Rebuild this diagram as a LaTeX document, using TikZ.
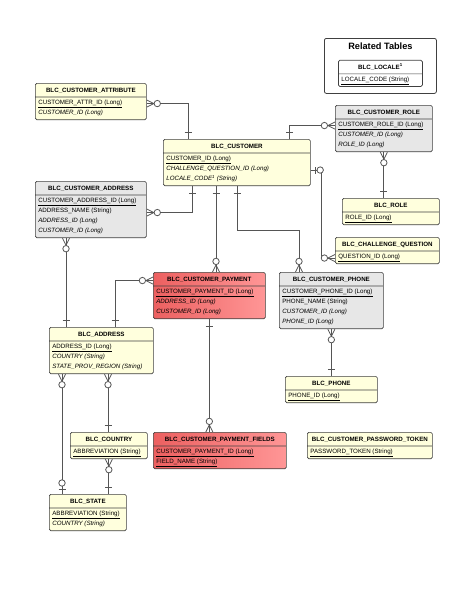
\documentclass[tikz,border=0pt]{standalone}
\usepackage{fontspec}
\setmainfont{Liberation Sans}
\usepackage{xcolor}
\definecolor{tabyellow}{RGB}{255,255,221}
\definecolor{tabgrey}{RGB}{231,231,231}
\definecolor{tabred}{RGB}{236,96,96}
\definecolor{tabpink}{RGB}{255,150,150}
\definecolor{boxline}{RGB}{64,64,64}
\definecolor{relline}{RGB}{85,85,85}
\usepackage{tikz}
\usetikzlibrary{positioning}
\usetikzlibrary{shapes,calc}
\usetikzlibrary{decorations.markings}

\newcommand{\tabhead}[1]{\rule[-3.5pt]{0pt}{11pt}\textbf{#1}}
\newcommand{\tabkey}[1]{\rule[-3.6pt]{0pt}{10pt}\underline{#1}}
\newcommand{\tabref}[1]{\rule[-3.6pt]{0pt}{10pt}\textit{#1}}
\newcommand{\tabcol}[1]{\rule[-3.6pt]{0pt}{10pt}#1}

\tikzset{table node/.style={rectangle split, rectangle split parts=2, rectangle split part align={center,left}, align=left, draw=boxline, line width=0.7pt, rounded corners=1.5pt, anchor=north west, inner xsep=3pt, inner ysep=1pt, font=\fontsize{6.2}{10}\selectfont, fill=tabyellow},
  rel line/.style={draw=relline, line width=0.8pt},
  many start/.style={postaction={decorate, decoration={markings, mark=at position 0.1pt with {\draw[rel line] (7pt,0)--(0,3.5pt) (7pt,0)--(0,-3.5pt); \draw[rel line, fill=white] (10.5pt,0) circle (3.2pt);}}}},
  many end/.style={postaction={decorate, decoration={markings, mark=at position -0.1pt with {\draw[rel line] (-7pt,0)--(0,3.5pt) (-7pt,0)--(0,-3.5pt); \draw[rel line, fill=white] (-10.5pt,0) circle (3.2pt);}}}},
  one start/.style={postaction={decorate, decoration={markings, mark=at position 7pt with {\draw[rel line] (0,-3.5pt)--(0,3.5pt);}}}},
  one end/.style={postaction={decorate, decoration={markings, mark=at position -7pt with {\draw[rel line] (0,-3.5pt)--(0,3.5pt);}}}},
  opt start/.style={postaction={decorate, decoration={markings, mark=at position 5pt with {\draw[rel line] (0,-3.5pt)--(0,3.5pt);}, mark=at position 9.5pt with {\draw[rel line, fill=white] (0,0) circle (3.2pt);}}}},
  opt end/.style={postaction={decorate, decoration={markings, mark=at position -11pt with {\draw[rel line, fill=white] (0,0) circle (3.2pt);}, mark=at position -4.5pt with {\draw[rel line] (0,-3.5pt)--(0,3.5pt);}}}},
}

\begin{document}
\begin{tikzpicture}[x=1pt, y=-1pt]
    \path[use as bounding box, fill=white] (0,0) rectangle (474,613);

    % related tables
    \node[draw=boxline, line width=0.8pt, rounded corners=2pt, minimum width=112pt, minimum height=55pt, anchor=north west] (related) at (324,38) {};
    \node[font=\bfseries\fontsize{9.2}{11}\selectfont, below=1pt of related.north] (reltitle) {Related Tables};
    \node[table node, fill=white, minimum width=84pt, below=7pt of reltitle] (locale) {\tabhead{BLC\_LOCALE\textsuperscript{1}}\nodepart{two}\tabkey{LOCALE\_CODE (String)}};

    % tables
    \node[table node, minimum width=111pt] (custattr) at (35,83) {\tabhead{BLC\_CUSTOMER\_ATTRIBUTE}\nodepart{two}\tabkey{CUSTOMER\_ATTR\_ID (Long)}\\ \tabref{CUSTOMER\_ID (Long)}};
    \node[table node, minimum width=147pt] (cust) at (163,139) {\tabhead{BLC\_CUSTOMER}\nodepart{two}\tabkey{CUSTOMER\_ID (Long)}\\ \tabref{CHALLENGE\_QUESTION\_ID (Long)}\\ \tabref{LOCALE\_CODE\textsuperscript{1} (String)}};
    \node[table node, fill=tabgrey, minimum width=111pt] (custaddr) at (35,181) {\tabhead{BLC\_CUSTOMER\_ADDRESS}\nodepart{two}\tabkey{CUSTOMER\_ADDRESS\_ID (Long)}\\ \tabcol{ADDRESS\_NAME (String)}\\ \tabref{ADDRESS\_ID (Long)}\\ \tabref{CUSTOMER\_ID (Long)}};
    \node[table node, fill=tabgrey, minimum width=97pt] (custrole) at (335,105) {\tabhead{BLC\_CUSTOMER\_ROLE}\nodepart{two}\tabkey{CUSTOMER\_ROLE\_ID (Long)}\\ \tabref{CUSTOMER\_ID (Long)}\\ \tabref{ROLE\_ID (Long)}};
    \node[table node, minimum width=97pt] (role) at (342,198) {\tabhead{BLC\_ROLE}\nodepart{two}\tabkey{ROLE\_ID (Long)}};
    \node[table node, minimum width=104pt] (question) at (335,237) {\tabhead{BLC\_CHALLENGE\_QUESTION}\nodepart{two}\tabkey{QUESTION\_ID (Long)}};
    \node[table node, left color=tabred, right color=tabpink, minimum width=112pt] (payment) at (153,272) {\tabhead{BLC\_CUSTOMER\_PAYMENT}\nodepart{two}\tabkey{CUSTOMER\_PAYMENT\_ID (Long)}\\ \tabref{ADDRESS\_ID (Long)}\\ \tabref{CUSTOMER\_ID (Long)}};
    \node[table node, fill=tabgrey, minimum width=104pt] (phone) at (279,272) {\tabhead{BLC\_CUSTOMER\_PHONE}\nodepart{two}\tabkey{CUSTOMER\_PHONE\_ID (Long)}\\ \tabcol{PHONE\_NAME (String)}\\ \tabref{CUSTOMER\_ID (Long)}\\ \tabref{PHONE\_ID (Long)}};
    \node[table node, minimum width=104pt] (address) at (49,327) {\tabhead{BLC\_ADDRESS}\nodepart{two}\tabkey{ADDRESS\_ID (Long)}\\ \tabref{COUNTRY (String)}\\ \tabref{STATE\_PROV\_REGION (String)}};
    \node[table node, minimum width=92pt] (phonetab) at (285,376) {\tabhead{BLC\_PHONE}\nodepart{two}\tabkey{PHONE\_ID (Long)}};
    \node[table node, minimum width=77pt] (country) at (70,432) {\tabhead{BLC\_COUNTRY}\nodepart{two}\tabkey{ABBREVIATION (String)}};
    \node[table node, left color=tabred, right color=tabpink, minimum width=133pt] (fields) at (153,432) {\tabhead{BLC\_CUSTOMER\_PAYMENT\_FIELDS}\nodepart{two}\tabkey{CUSTOMER\_PAYMENT\_ID (Long)}\\ \tabkey{FIELD\_NAME (String)}};
    \node[table node, minimum width=125pt] (token) at (307,432) {\tabhead{BLC\_CUSTOMER\_PASSWORD\_TOKEN}\nodepart{two}\tabkey{PASSWORD\_TOKEN (String)}};
    \node[table node, minimum width=77pt] (state) at (49,494) {\tabhead{BLC\_STATE}\nodepart{two}\tabkey{ABBREVIATION (String)}\\ \tabref{COUNTRY (String)}};

    % relations
    \draw[rel line, many start, one end] ([yshift=-2pt]custattr.east) -| ([xshift=25pt]cust.north west);
    \draw[rel line, many start, one end] ([yshift=-3pt]custaddr.east) -| ([xshift=29pt]cust.south west);
    \draw[rel line, one start, many end] ([xshift=126pt]cust.north west) |- ([yshift=3pt]custrole.west);
    \draw[rel line, many start, one end] (custrole.south) -- (custrole.south |- role.north);
    \draw[rel line, opt start, many end] ([yshift=-7.5pt]cust.east) -- ++(11,0) |- ([yshift=-7.5pt]question.west);
    \draw[rel line, one start, many end] ([xshift=53pt]cust.south west) -- ([xshift=63pt]payment.north west);
    \draw[rel line, one start, many end] ([xshift=74pt]cust.south west) -- ++(0,44) -| ([xshift=20pt]phone.north west);
    \draw[rel line, many start, one end] ([xshift=31pt]custaddr.south west) -- ([xshift=17pt]address.north west);
    \draw[rel line, many start, one end] ([yshift=15pt]payment.west) -| ([xshift=66pt]address.north west);
    \draw[rel line, one start, many end] (payment.south) -- (payment.south |- fields.north);
    \draw[rel line, many start, one end] (phone.south) -- (phonetab.north);
    \draw[rel line, many start, opt end] ([xshift=13pt]address.south west) -- ([xshift=13pt]state.north west);
    \draw[rel line, many start, one end] ([xshift=59pt]address.south west) -- ([xshift=38pt]country.north west);
    \draw[rel line, many start, one end] (country.south) -- (country.south |- state.north);
\end{tikzpicture}
\end{document}
